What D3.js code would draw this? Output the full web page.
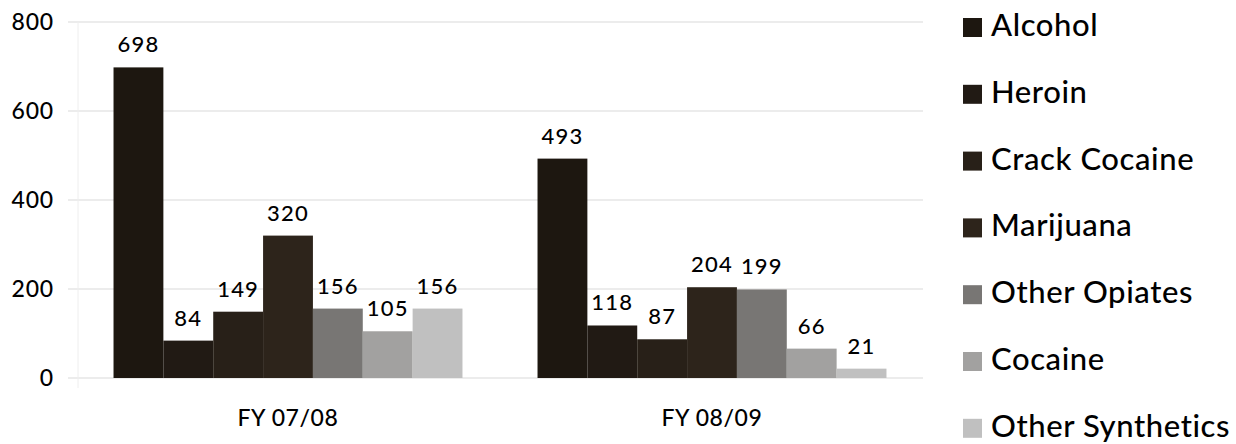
<!DOCTYPE html>
<html>
<head>
<meta charset="utf-8">
<script src="https://cdn.jsdelivr.net/npm/d3@7/dist/d3.min.js"></script>
<style>
  html, body { margin: 0; padding: 0; background: #fff; }
  svg { display: block; font-family: Lato, "Open Sans", sans-serif; }
</style>
</head>
<body>
<svg id="chart" width="1236" height="444"></svg>
<script>
const categories = ["FY 07/08", "FY 08/09"];
const seriesNames = ["Alcohol", "Heroin", "Crack Cocaine", "Marijuana", "Other Opiates", "Cocaine", "Other Synthetics"];
const alcohol = [698, 493];
const heroin = [84, 118];
const crackCocaine = [149, 87];
const marijuana = [320, 204];
const otherOpiates = [156, 199];
const cocaine = [105, 66];
const otherSynthetics = [156, 21];
const yTicks = [0, 200, 400, 600, 800];
const colors = ["#1d1710", "#211a14", "#282018", "#2d241b", "#787674", "#a2a1a0", "#c0c0c0"];

const seriesValues = [alcohol, heroin, crackCocaine, marijuana, otherOpiates, cocaine, otherSynthetics];

const svg = d3.select("#chart");

const y = d3.scaleLinear().domain([0, 800]).range([378, 22]);
const x0 = d3.scaleBand().domain(categories).range([76, 924]).paddingInner(0.177).paddingOuter(0.0885);
const x1 = d3.scaleBand().domain(seriesNames).range([0, x0.bandwidth()]).padding(0);

// gridlines
svg.append("g").selectAll("line").data(yTicks).join("line")
  .attr("x1", 68).attr("x2", 923)
  .attr("y1", d => y(d)).attr("y2", d => y(d))
  .attr("stroke", "#d9d9d9").attr("stroke-width", 1.2);

// vertical axis line
svg.append("line").attr("x1", 78).attr("x2", 78).attr("y1", y(800)).attr("y2", y(0) + 10)
  .attr("stroke", "#eeeeee").attr("stroke-width", 1);

// y tick labels
const yAxis = d3.axisLeft(y).tickValues(yTicks).tickSize(0).tickPadding(0);
const ya = svg.append("g").attr("transform", "translate(54,0)").call(yAxis);
ya.select(".domain").remove();
ya.selectAll("text").attr("font-size", 23).attr("fill", "#000")
  .attr("font-family", "Lato, sans-serif").attr("letter-spacing", 0.8)
  .style("font-weight", 500);

// bars
const groups = svg.append("g").selectAll("g").data(categories).join("g")
  .attr("transform", d => `translate(${x0(d)},0)`);

groups.each(function(cat, ci) {
  const g = d3.select(this);
  const data = seriesNames.map((s, si) => ({ s, si, v: seriesValues[si][ci] }));
  g.selectAll("rect").data(data).join("rect")
    .attr("x", d => x1(d.s)).attr("width", x1.bandwidth())
    .attr("y", d => y(d.v)).attr("height", d => y(0) - y(d.v))
    .attr("fill", d => colors[d.si]);
  g.selectAll("text").data(data).join("text")
    .attr("x", d => x1(d.s) + x1.bandwidth() / 2)
    .attr("y", d => y(d.v) - 15)
    .attr("text-anchor", "middle")
    .attr("font-size", 22).attr("letter-spacing", 1.2).attr("fill", "#000")
    .style("font-weight", 500)
    .text(d => d.v);
});

// x axis labels
const xAxis = d3.axisBottom(x0).tickSize(0).tickPadding(0);
const xa = svg.append("g").attr("transform", "translate(0,410)").call(xAxis);
xa.select(".domain").remove();
xa.selectAll("text").attr("font-size", 23).attr("fill", "#000")
  .attr("font-family", "Lato, sans-serif").attr("letter-spacing", 0.6)
  .style("font-weight", 500);

// legend
const legend = svg.append("g").selectAll("g").data(seriesNames).join("g")
  .attr("transform", (d, i) => `translate(963,${36 + i * 66.8})`);
legend.append("rect").attr("x", 0).attr("y", -18).attr("width", 19).attr("height", 19)
  .attr("fill", (d, i) => colors[i]);
legend.append("text").attr("x", 28).attr("y", 0)
  .attr("font-size", 31).attr("letter-spacing", 0.6).attr("fill", "#000")
  .style("font-weight", 500).text(d => d);
</script>
</body>
</html>
